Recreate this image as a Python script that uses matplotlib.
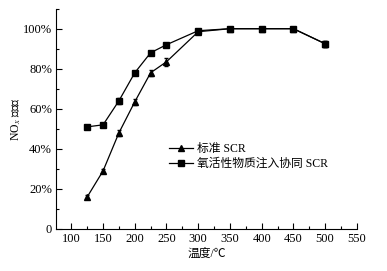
import matplotlib
matplotlib.use("Agg")
import matplotlib.pyplot as plt
from matplotlib.ticker import MultipleLocator, FuncFormatter

plt.rcParams['font.family'] = ['Liberation Serif', 'Noto Sans CJK SC', 'DejaVu Sans']
plt.rcParams['mathtext.fontset'] = 'stix'

# --- Data ---
temps = [125, 150, 175, 200, 225, 250, 300, 350, 400, 450, 500]
std_scr = [16, 29, 48, 63.5, 78, 83.5, 98.5, 100, 100, 100, 92.5]
std_err = [1, 1, 1.5, 1.5, 1.5, 2, 0.5, 0.5, 0.5, 0.5, 1.5]
oxy_scr = [51, 52, 64, 78, 88, 92, 99, 100, 100, 100, 92.5]
oxy_err = [1, 0.5, 1.5, 0.5, 0.5, 0.5, 0.5, 0.5, 0.5, 0.5, 1.5]
labels = ["标准 SCR", "氧活性物质注入协同 SCR"]

# --- Plot ---
fig = plt.figure(figsize=(3.87, 2.71), dpi=100)
ax = fig.add_axes([0.145, 0.155, 0.777, 0.813])

ax.errorbar(temps, std_scr, yerr=std_err, color="black", fmt="none",
            elinewidth=0.6, capsize=1.5)
ax.errorbar(temps, oxy_scr, yerr=oxy_err, color="black", fmt="none",
            elinewidth=0.6, capsize=1.5)
ax.plot(temps, std_scr, color="black", marker="^", markersize=4.5,
        linewidth=0.9, label=labels[0])
ax.plot(temps, oxy_scr, color="black", marker="s", markersize=4,
        linewidth=0.9, label=labels[1])

ax.set_xlim(76, 550)
ax.set_ylim(0, 110)
ax.xaxis.set_major_locator(MultipleLocator(50))
ax.xaxis.set_minor_locator(MultipleLocator(25))
ax.yaxis.set_major_locator(MultipleLocator(20))
ax.yaxis.set_minor_locator(MultipleLocator(10))
ax.yaxis.set_major_formatter(FuncFormatter(lambda v, p: "0" if v == 0 else f"{v:.0f}%"))

ax.tick_params(which="both", direction="in", labelsize=9, width=0.8, pad=3)
ax.tick_params(which="major", length=4)
ax.tick_params(which="minor", length=2.5)
ax.spines["top"].set_visible(False)
ax.spines["right"].set_visible(False)
for s in ("left", "bottom"):
    ax.spines[s].set_linewidth(0.8)

ax.set_xlabel("温度/℃", fontsize=8.5, labelpad=2)
ax.set_ylabel("NO$_x$ 脱除率", fontsize=8.5, labelpad=0)

ax.legend(loc="upper left", bbox_to_anchor=(0.36, 0.41), frameon=False, fontsize=8.5,
          handlelength=2.0, handletextpad=0.4, labelspacing=0.2, borderaxespad=0)

fig.savefig("out.png", dpi=100)
